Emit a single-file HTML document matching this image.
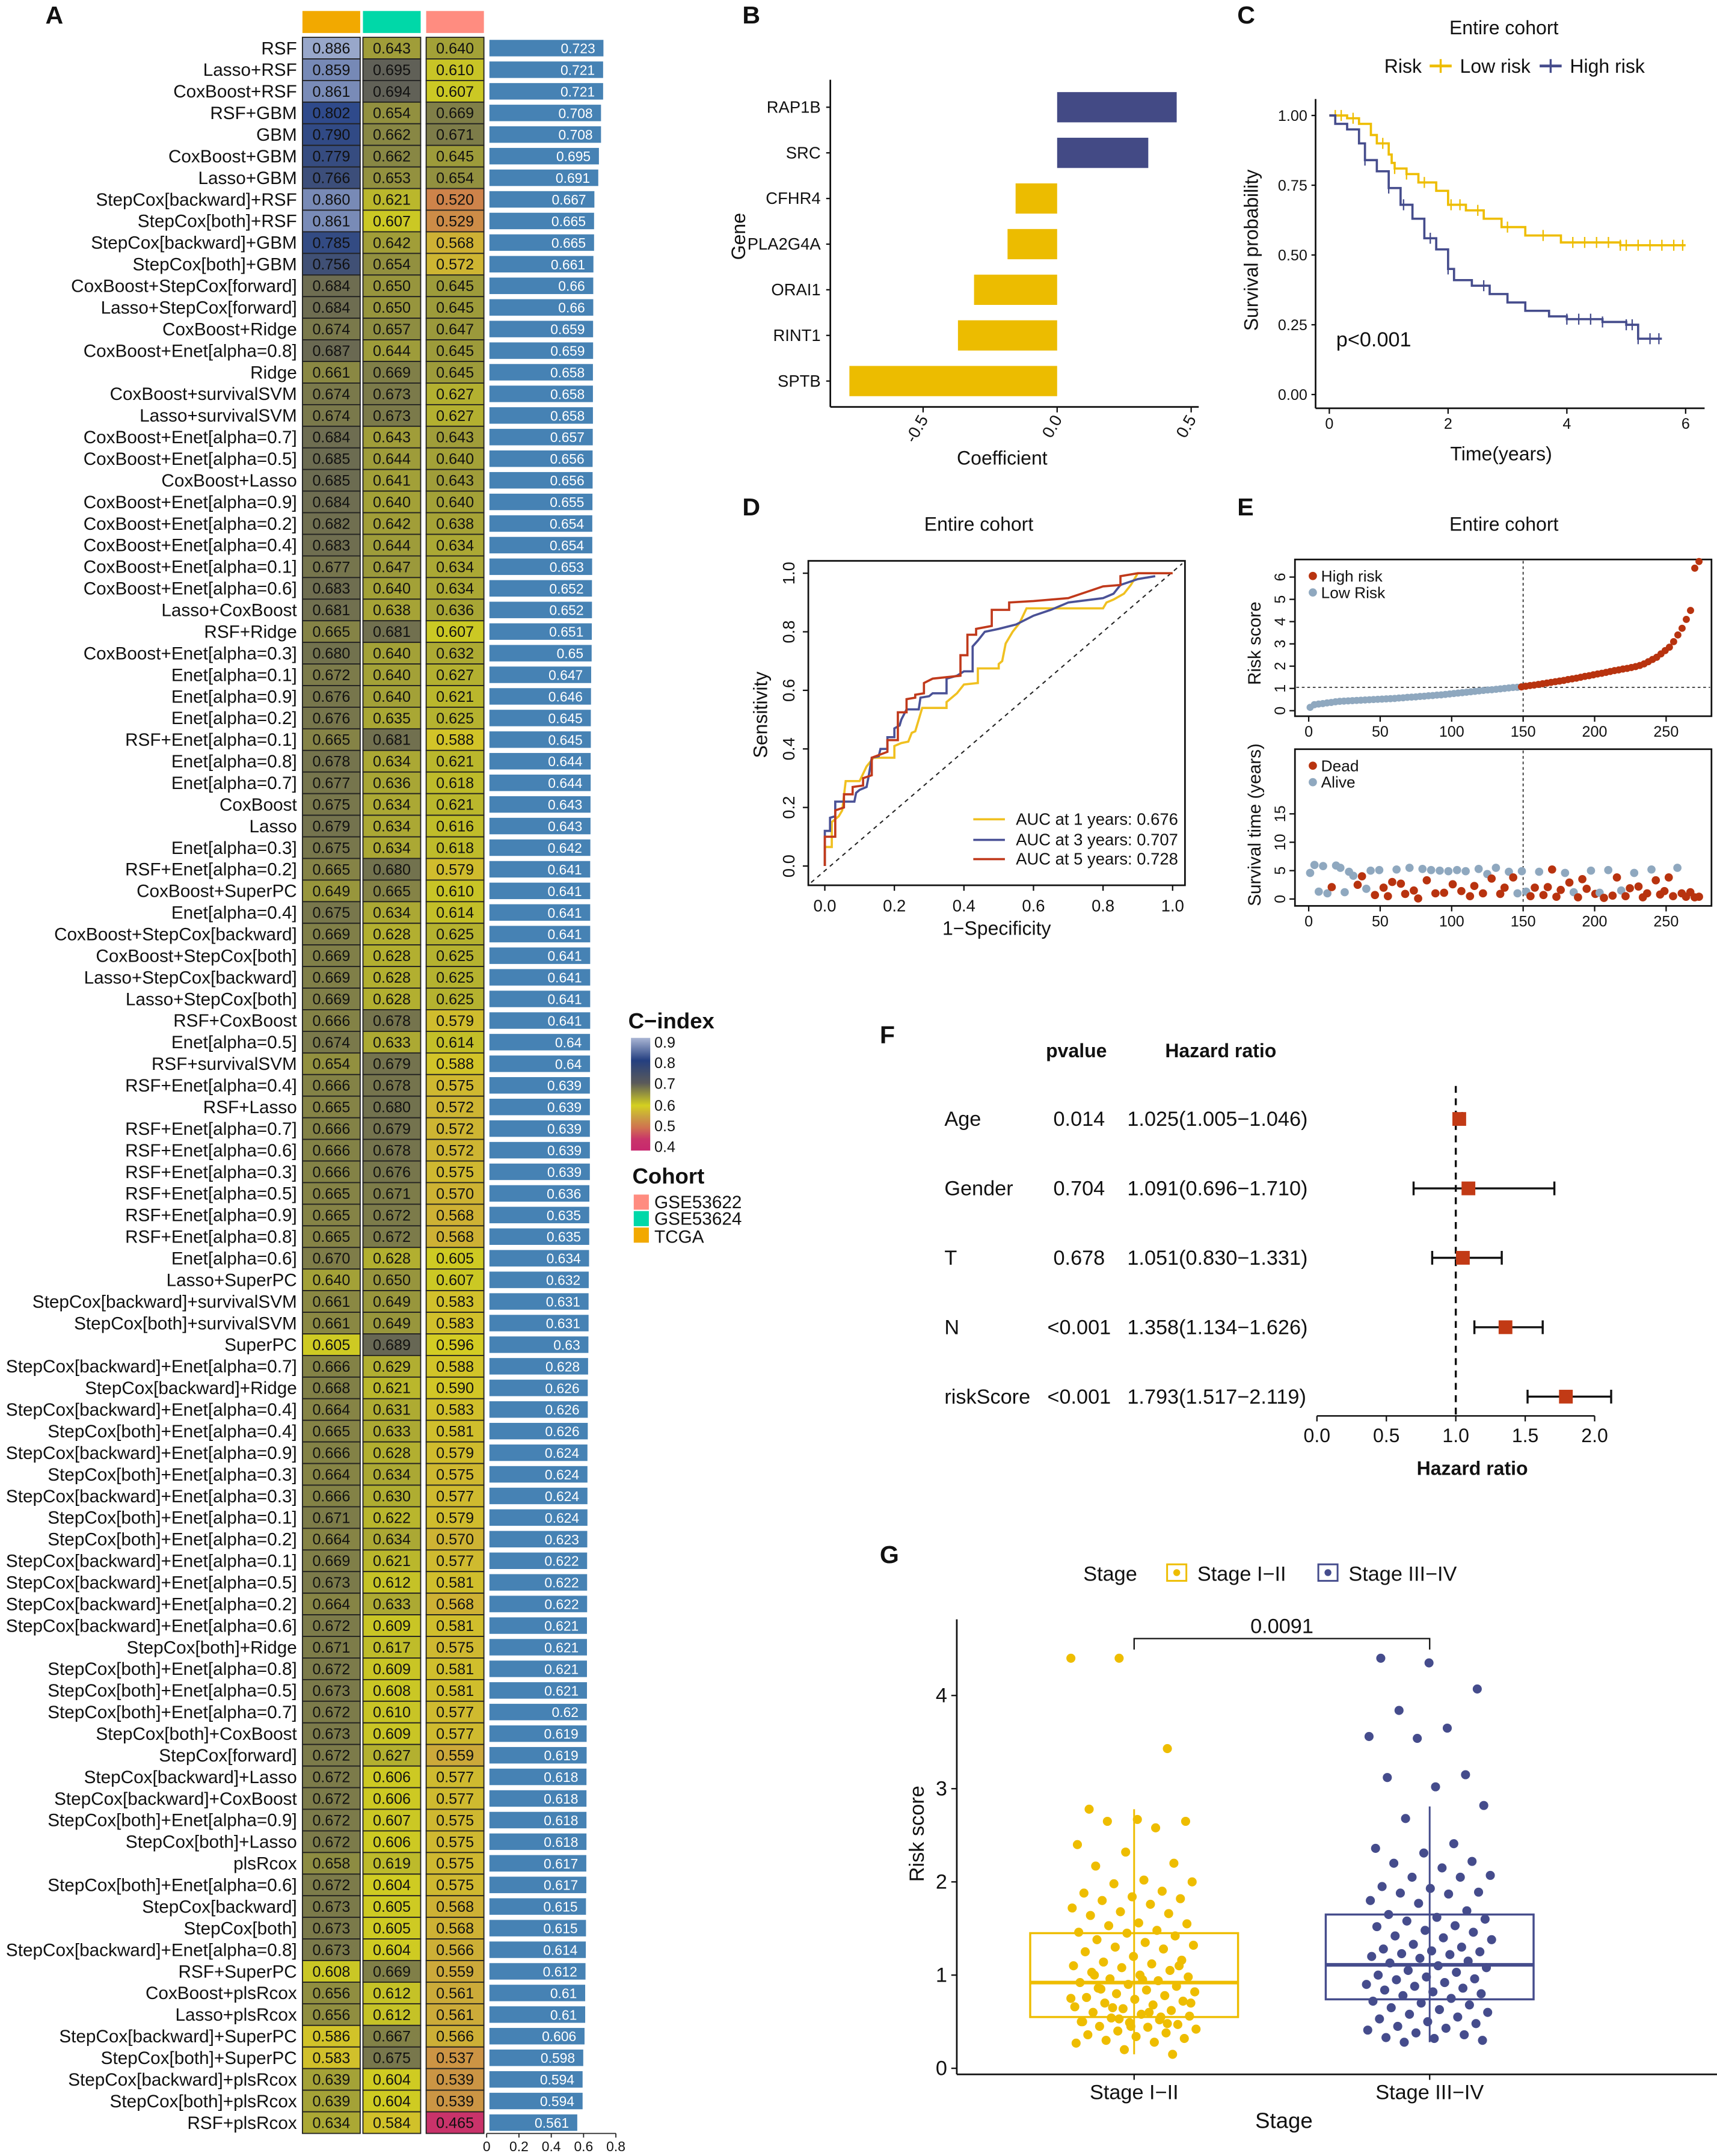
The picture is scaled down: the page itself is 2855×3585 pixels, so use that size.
<!DOCTYPE html>
<html><head><meta charset="utf-8"><style>
html,body{margin:0;padding:0;background:#fff}
svg{display:block}
text{font-family:"Liberation Sans",Arial,sans-serif;fill:#111}
</style></head><body>
<svg id="fig" xmlns="http://www.w3.org/2000/svg" width="2855" height="3585" viewBox="0 0 1249 1568.4">
<rect x="0" y="0" width="1249" height="1568.4" fill="#fff"/>
<g font-weight="bold" font-size="18">
<text x="33" y="17">A</text>
<text x="540" y="17">B</text>
<text x="900" y="17">C</text>
<text x="540" y="375">D</text>
<text x="900" y="375">E</text>
<text x="640" y="759">F</text>
<text x="640" y="1137">G</text>
</g>
<rect x="220" y="8" width="42" height="16" fill="#f2a900"/>
<rect x="264" y="8" width="42" height="16" fill="#00d8a8"/>
<rect x="310" y="8" width="42" height="16" fill="#ff8c80"/>
<g id="heat"></g>
<g id="bars"></g>
<g>
<line x1="354" y1="1552" x2="448" y2="1552" stroke="#222" stroke-width="0.8"/>
<g id="barticks"></g>
</g>
<defs><linearGradient id="cg" x1="0" y1="0" x2="0" y2="1">
<stop offset="0" stop-color="#aab6d4"/><stop offset="0.2" stop-color="#243f80"/><stop offset="0.4" stop-color="#5a5a5a"/><stop offset="0.6" stop-color="#d4d020"/><stop offset="0.7" stop-color="#caa040"/><stop offset="0.8" stop-color="#d07050"/><stop offset="0.9" stop-color="#c9346a"/><stop offset="1" stop-color="#c8286e"/></linearGradient></defs>
<g>
<text x="457" y="748" font-size="16" font-weight="bold">C−index</text>
<rect x="459" y="755" width="14" height="82" fill="url(#cg)"/>
<g font-size="11"><text x="476" y="762">0.9</text><text x="476" y="777">0.8</text><text x="476" y="792">0.7</text><text x="476" y="808">0.6</text><text x="476" y="823">0.5</text><text x="476" y="838">0.4</text></g>
<text x="460" y="861" font-size="16" font-weight="bold">Cohort</text>
<rect x="461" y="869" width="11" height="11" fill="#ff8c80"/><rect x="461" y="881" width="11" height="11" fill="#00d8a8"/><rect x="461" y="893" width="11" height="11" fill="#f2a900"/>
<g font-size="13"><text x="476" y="879">GSE53622</text><text x="476" y="891">GSE53624</text><text x="476" y="904">TCGA</text></g>
</g>
<g>
<line x1="604" y1="58" x2="604" y2="296" stroke="#111" stroke-width="1.2"/>
<line x1="604" y1="296" x2="872" y2="296" stroke="#111" stroke-width="1.2"/>
<g id="bBars"></g>
<text transform="translate(542,172) rotate(-90)" text-anchor="middle" font-size="14">Gene</text>
<text x="729" y="338" text-anchor="middle" font-size="14">Coefficient</text>
</g>
<g>
<text x="1094" y="25" text-anchor="middle" font-size="14">Entire cohort</text>
<text x="1007" y="53" font-size="14">Risk</text>
<line x1="1040" y1="48" x2="1056" y2="48" stroke="#eebd00" stroke-width="2"/><line x1="1048" y1="43" x2="1048" y2="53" stroke="#eebd00" stroke-width="1.5"/>
<text x="1062" y="53" font-size="14">Low risk</text>
<line x1="1120" y1="48" x2="1136" y2="48" stroke="#454c8c" stroke-width="2"/><line x1="1128" y1="43" x2="1128" y2="53" stroke="#454c8c" stroke-width="1.5"/>
<text x="1142" y="53" font-size="14">High risk</text>
<line x1="957" y1="72" x2="957" y2="297" stroke="#111" stroke-width="1.2"/>
<line x1="957" y1="297" x2="1240" y2="297" stroke="#111" stroke-width="1.2"/>
<g id="cAxes"></g>
<g id="cCurves"></g>
<text x="972" y="252" font-size="15">p&lt;0.001</text>
<text transform="translate(915,182) rotate(-90)" text-anchor="middle" font-size="14">Survival probability</text>
<text x="1092" y="335" text-anchor="middle" font-size="14">Time(years)</text>
</g>
<g>
<text x="712" y="386" text-anchor="middle" font-size="14">Entire cohort</text>
<rect x="588" y="408" width="274" height="236" fill="none" stroke="#111" stroke-width="1.2"/>
<g id="dAxes"></g>
<line x1="590" y1="642" x2="860" y2="410" stroke="#222" stroke-width="0.9" stroke-dasharray="3,3"/>
<g id="dCurves"></g>
<g font-size="12"><line x1="708" y1="596" x2="731" y2="596" stroke="#f0c020" stroke-width="1.6"/><text x="739" y="600">AUC at 1 years: 0.676</text>
<line x1="708" y1="611" x2="731" y2="611" stroke="#4a5196" stroke-width="1.6"/><text x="739" y="615">AUC at 3 years: 0.707</text>
<line x1="708" y1="625" x2="731" y2="625" stroke="#c0391b" stroke-width="1.6"/><text x="739" y="629">AUC at 5 years: 0.728</text></g>
<text transform="translate(558,520) rotate(-90)" text-anchor="middle" font-size="14">Sensitivity</text>
<text x="725" y="680" text-anchor="middle" font-size="14">1−Specificity</text>
</g>
<g>
<text x="1094" y="386" text-anchor="middle" font-size="14">Entire cohort</text>
<rect x="942" y="407" width="303" height="114" fill="none" stroke="#111" stroke-width="1.2"/>
<rect x="942" y="545" width="303" height="114" fill="none" stroke="#111" stroke-width="1.2"/>
<g id="eAxes"></g>
<g id="ePts"></g>
<circle cx="955" cy="419" r="3" fill="#b8330f"/><text x="961" y="423" font-size="11.5">High risk</text>
<circle cx="955" cy="431" r="3" fill="#8fa8bf"/><text x="961" y="435" font-size="11.5">Low Risk</text>
<circle cx="955" cy="557" r="3" fill="#b8330f"/><text x="961" y="561" font-size="11.5">Dead</text>
<circle cx="955" cy="569" r="3" fill="#8fa8bf"/><text x="961" y="573" font-size="11.5">Alive</text>
<text transform="translate(917,468) rotate(-90)" text-anchor="middle" font-size="13">Risk score</text>
<text transform="translate(917,600) rotate(-90)" text-anchor="middle" font-size="13">Survival time (years)</text>
</g>
<g>
<text x="783" y="769" text-anchor="middle" font-size="14" font-weight="bold">pvalue</text>
<text x="888" y="769" text-anchor="middle" font-size="14" font-weight="bold">Hazard ratio</text>
<line x1="1059" y1="790" x2="1059" y2="1030" stroke="#111" stroke-width="1.5" stroke-dasharray="5,4"/>
<line x1="958" y1="1030" x2="1160" y2="1030" stroke="#111" stroke-width="1.1"/>
<g id="fRows"></g>
<text x="1071" y="1073" text-anchor="middle" font-size="14" font-weight="bold">Hazard ratio</text>
</g>
<g>
<text x="788" y="1150" font-size="15">Stage</text>
<rect x="849" y="1138" width="14" height="12" fill="none" stroke="#eebd00" stroke-width="1.3"/><circle cx="856" cy="1144" r="2.5" fill="#eebd00"/>
<text x="871" y="1150" font-size="15">Stage I−II</text>
<rect x="959" y="1138" width="14" height="12" fill="none" stroke="#454c8c" stroke-width="1.3"/><circle cx="966" cy="1144" r="2.5" fill="#454c8c"/>
<text x="981" y="1150" font-size="15">Stage III−IV</text>
<line x1="696" y1="1178" x2="696" y2="1509" stroke="#111" stroke-width="1.2"/>
<line x1="696" y1="1509" x2="1249" y2="1509" stroke="#111" stroke-width="1.2"/>
<g id="gPlot"></g>
<text transform="translate(672,1334) rotate(-90)" text-anchor="middle" font-size="15">Risk score</text>
<text x="934" y="1548" text-anchor="middle" font-size="16">Stage</text>
</g>
</svg>
<script>
const NS='http://www.w3.org/2000/svg';
function mk(tag,attrs,parent){const e=document.createElementNS(NS,tag);for(const k in attrs)e.setAttribute(k,attrs[k]);if(parent)parent.appendChild(e);return e;}
const modelNames=["RSF","Lasso+RSF","CoxBoost+RSF","RSF+GBM","GBM","CoxBoost+GBM","Lasso+GBM","StepCox[backward]+RSF","StepCox[both]+RSF","StepCox[backward]+GBM","StepCox[both]+GBM","CoxBoost+StepCox[forward]","Lasso+StepCox[forward]","CoxBoost+Ridge","CoxBoost+Enet[alpha=0.8]","Ridge","CoxBoost+survivalSVM","Lasso+survivalSVM","CoxBoost+Enet[alpha=0.7]","CoxBoost+Enet[alpha=0.5]","CoxBoost+Lasso","CoxBoost+Enet[alpha=0.9]","CoxBoost+Enet[alpha=0.2]","CoxBoost+Enet[alpha=0.4]","CoxBoost+Enet[alpha=0.1]","CoxBoost+Enet[alpha=0.6]","Lasso+CoxBoost","RSF+Ridge","CoxBoost+Enet[alpha=0.3]","Enet[alpha=0.1]","Enet[alpha=0.9]","Enet[alpha=0.2]","RSF+Enet[alpha=0.1]","Enet[alpha=0.8]","Enet[alpha=0.7]","CoxBoost","Lasso","Enet[alpha=0.3]","RSF+Enet[alpha=0.2]","CoxBoost+SuperPC","Enet[alpha=0.4]","CoxBoost+StepCox[backward]","CoxBoost+StepCox[both]","Lasso+StepCox[backward]","Lasso+StepCox[both]","RSF+CoxBoost","Enet[alpha=0.5]","RSF+survivalSVM","RSF+Enet[alpha=0.4]","RSF+Lasso","RSF+Enet[alpha=0.7]","RSF+Enet[alpha=0.6]","RSF+Enet[alpha=0.3]","RSF+Enet[alpha=0.5]","RSF+Enet[alpha=0.9]","RSF+Enet[alpha=0.8]","Enet[alpha=0.6]","Lasso+SuperPC","StepCox[backward]+survivalSVM","StepCox[both]+survivalSVM","SuperPC","StepCox[backward]+Enet[alpha=0.7]","StepCox[backward]+Ridge","StepCox[backward]+Enet[alpha=0.4]","StepCox[both]+Enet[alpha=0.4]","StepCox[backward]+Enet[alpha=0.9]","StepCox[both]+Enet[alpha=0.3]","StepCox[backward]+Enet[alpha=0.3]","StepCox[both]+Enet[alpha=0.1]","StepCox[both]+Enet[alpha=0.2]","StepCox[backward]+Enet[alpha=0.1]","StepCox[backward]+Enet[alpha=0.5]","StepCox[backward]+Enet[alpha=0.2]","StepCox[backward]+Enet[alpha=0.6]","StepCox[both]+Ridge","StepCox[both]+Enet[alpha=0.8]","StepCox[both]+Enet[alpha=0.5]","StepCox[both]+Enet[alpha=0.7]","StepCox[both]+CoxBoost","StepCox[forward]","StepCox[backward]+Lasso","StepCox[backward]+CoxBoost","StepCox[both]+Enet[alpha=0.9]","StepCox[both]+Lasso","plsRcox","StepCox[both]+Enet[alpha=0.6]","StepCox[backward]","StepCox[both]","StepCox[backward]+Enet[alpha=0.8]","RSF+SuperPC","CoxBoost+plsRcox","Lasso+plsRcox","StepCox[backward]+SuperPC","StepCox[both]+SuperPC","StepCox[backward]+plsRcox","StepCox[both]+plsRcox","RSF+plsRcox"];
const cTCGA=[0.886,0.859,0.861,0.802,0.790,0.779,0.766,0.860,0.861,0.785,0.756,0.684,0.684,0.674,0.687,0.661,0.674,0.674,0.684,0.685,0.685,0.684,0.682,0.683,0.677,0.683,0.681,0.665,0.680,0.672,0.676,0.676,0.665,0.678,0.677,0.675,0.679,0.675,0.665,0.649,0.675,0.669,0.669,0.669,0.669,0.666,0.674,0.654,0.666,0.665,0.666,0.666,0.666,0.665,0.665,0.665,0.670,0.640,0.661,0.661,0.605,0.666,0.668,0.664,0.665,0.666,0.664,0.666,0.671,0.664,0.669,0.673,0.664,0.672,0.671,0.672,0.673,0.672,0.673,0.672,0.672,0.672,0.672,0.672,0.658,0.672,0.673,0.673,0.673,0.608,0.656,0.656,0.586,0.583,0.639,0.639,0.634];
const cGSE53624=[0.643,0.695,0.694,0.654,0.662,0.662,0.653,0.621,0.607,0.642,0.654,0.650,0.650,0.657,0.644,0.669,0.673,0.673,0.643,0.644,0.641,0.640,0.642,0.644,0.647,0.640,0.638,0.681,0.640,0.640,0.640,0.635,0.681,0.634,0.636,0.634,0.634,0.634,0.680,0.665,0.634,0.628,0.628,0.628,0.628,0.678,0.633,0.679,0.678,0.680,0.679,0.678,0.676,0.671,0.672,0.672,0.628,0.650,0.649,0.649,0.689,0.629,0.621,0.631,0.633,0.628,0.634,0.630,0.622,0.634,0.621,0.612,0.633,0.609,0.617,0.609,0.608,0.610,0.609,0.627,0.606,0.606,0.607,0.606,0.619,0.604,0.605,0.605,0.604,0.669,0.612,0.612,0.667,0.675,0.604,0.604,0.584];
const cGSE53622=[0.640,0.610,0.607,0.669,0.671,0.645,0.654,0.520,0.529,0.568,0.572,0.645,0.645,0.647,0.645,0.645,0.627,0.627,0.643,0.640,0.643,0.640,0.638,0.634,0.634,0.634,0.636,0.607,0.632,0.627,0.621,0.625,0.588,0.621,0.618,0.621,0.616,0.618,0.579,0.610,0.614,0.625,0.625,0.625,0.625,0.579,0.614,0.588,0.575,0.572,0.572,0.572,0.575,0.570,0.568,0.568,0.605,0.607,0.583,0.583,0.596,0.588,0.590,0.583,0.581,0.579,0.575,0.577,0.579,0.570,0.577,0.581,0.568,0.581,0.575,0.581,0.581,0.577,0.577,0.559,0.577,0.577,0.575,0.575,0.575,0.575,0.568,0.568,0.566,0.559,0.561,0.561,0.566,0.537,0.539,0.539,0.465];
const cMean=[0.723,0.721,0.721,0.708,0.708,0.695,0.691,0.667,0.665,0.665,0.661,0.66,0.66,0.659,0.659,0.658,0.658,0.658,0.657,0.656,0.656,0.655,0.654,0.654,0.653,0.652,0.652,0.651,0.65,0.647,0.646,0.645,0.645,0.644,0.644,0.643,0.643,0.642,0.641,0.641,0.641,0.641,0.641,0.641,0.641,0.641,0.64,0.64,0.639,0.639,0.639,0.639,0.639,0.636,0.635,0.635,0.634,0.632,0.631,0.631,0.63,0.628,0.626,0.626,0.626,0.624,0.624,0.624,0.624,0.623,0.622,0.622,0.622,0.621,0.621,0.621,0.621,0.62,0.619,0.619,0.618,0.618,0.618,0.618,0.617,0.617,0.615,0.615,0.614,0.612,0.61,0.61,0.606,0.598,0.594,0.594,0.561];
const barTicks=[0,0.2,0.4,0.6,0.8];
const stops=[[0.4,[200,40,110]],[0.47,[201,52,106]],[0.5,[208,112,80]],[0.55,[202,160,64]],[0.6,[212,208,32]],[0.7,[90,90,90]],[0.8,[44,72,138]],[0.9,[170,182,212]]];
function cmap(v){if(v<=stops[0][0])return 'rgb('+stops[0][1]+')';for(let i=1;i<stops.length;i++){if(v<=stops[i][0]){const a=stops[i-1],b=stops[i];const t=(v-a[0])/(b[0]-a[0]);return 'rgb('+a[1].map((c,j)=>Math.round(c+(b[1][j]-c)*t)).join(',')+')';}}return 'rgb('+stops[stops.length-1][1]+')';}
const rowY=i=>35+i*15.72, RH=15.72;
const xBar=v=>354+v*117.5;
const heat=document.getElementById('heat'), bars=document.getElementById('bars');
const cols=[[cTCGA,220],[cGSE53624,264],[cGSE53622,310]];
modelNames.forEach((nm,i)=>{
  const y=rowY(i);
  const t=mk('text',{x:216,y:y+4.5,'text-anchor':'end','font-size':13},heat);t.textContent=nm;
  
  
  cols.forEach(([arr,x])=>{
    const r=mk('rect',{x:x,y:y-RH/2,width:42,height:RH,fill:cmap(arr[i]),stroke:'#222','stroke-width':0.8},heat);
    
    
    const tt=mk('text',{x:x+21,y:y+3.9,'text-anchor':'middle','font-size':11,fill:'#111'},heat);tt.textContent=arr[i].toFixed(3);
    
    
  });
  const b=mk('rect',{x:356,y:y-6,width:xBar(cMean[i])-356,height:12,fill:'#4682b4'},bars);
  
  
  const bt=mk('text',{x:xBar(cMean[i])-6,y:y+3.7,'text-anchor':'end','font-size':10,fill:'#fff'},bars);bt.textContent=String(cMean[i]);
  bt.style.fill='#fff';
  
  
});
const btg=document.getElementById('barticks');
barTicks.forEach(v=>{mk('line',{x1:xBar(v),y1:1552,x2:xBar(v),y2:1555,stroke:'#222','stroke-width':0.8},btg);
  const t=mk('text',{x:xBar(v),y:1565,'text-anchor':'middle','font-size':10},btg);t.textContent=String(v);
  
  });
const genes=["RAP1B","SRC","CFHR4","PLA2G4A","ORAI1","RINT1","SPTB"];
const coefs=[0.446,0.34,-0.155,-0.185,-0.31,-0.37,-0.775];
const coefTicks=[-0.5,0.0,0.5];
const xB=v=>769+v*195, yB=i=>78+i*33.2;
const bB=document.getElementById('bBars');
genes.forEach((g,i)=>{
  const v=coefs[i];
  const r=mk('rect',{x:Math.min(xB(0),xB(v)),y:yB(i)-11,width:Math.abs(xB(v)-xB(0)),height:22,fill:v>0?'#434a85':'#ecbc00'},bB);
  
  
  mk('line',{x1:601,y1:yB(i),x2:604,y2:yB(i),stroke:'#111'},bB);
  const t=mk('text',{x:597,y:yB(i)+4,'text-anchor':'end','font-size':12},bB);t.textContent=g;
  
  
});
coefTicks.forEach(v=>{mk('line',{x1:xB(v),y1:296,x2:xB(v),y2:300,stroke:'#111'},bB);
  const t=mk('text',{transform:`translate(${xB(v)+4},305) rotate(-60)`,'text-anchor':'end','font-size':12},bB);t.textContent=v.toFixed(1);
  
  });
const lowT=[0,0.3,0.5,0.7,0.8,1.0,1.05,1.1,1.3,1.5,1.8,2.0,2.3,2.6,2.9,3.3,3.9,4.9,6.0];
const lowS=[1,0.99,0.97,0.93,0.9,0.86,0.83,0.81,0.79,0.76,0.73,0.68,0.66,0.63,0.6,0.57,0.545,0.535,0.535];
const highT=[0,0.1,0.3,0.5,0.6,0.8,1.0,1.2,1.4,1.6,1.8,2.0,2.1,2.4,2.7,3.0,3.3,3.7,4.0,4.6,5.0,5.2,5.6];
const highS=[1,0.97,0.95,0.9,0.84,0.8,0.74,0.68,0.63,0.56,0.52,0.45,0.41,0.39,0.36,0.33,0.3,0.28,0.27,0.26,0.25,0.2,0.2];
const lowCens=[0.1,0.2,0.4,0.9,1.1,1.3,1.6,2.05,2.2,2.5,3.0,3.6,4.1,4.3,4.5,4.7,4.9,5.0,5.2,5.4,5.6,5.8,5.95];
const highCens=[0.6,1.0,1.25,1.7,2.0,2.6,4.0,4.2,4.4,4.6,5.0,5.1,5.2,5.4,5.55];
const survTicks=[0,0.25,0.5,0.75,1.0], timeTicks=[0,2,4,6];
const xC=t=>967+t*43.2, yC=s=>287-s*203;
const cAx=document.getElementById('cAxes'), cCv=document.getElementById('cCurves');
survTicks.forEach(s=>{mk('line',{x1:954,y1:yC(s),x2:957,y2:yC(s),stroke:'#111'},cAx);const t=mk('text',{x:951,y:yC(s)+4,'text-anchor':'end','font-size':11},cAx);t.textContent=s.toFixed(2);
  
  });
timeTicks.forEach(v=>{mk('line',{x1:xC(v),y1:297,x2:xC(v),y2:301,stroke:'#111'},cAx);const t=mk('text',{x:xC(v),y:312,'text-anchor':'middle','font-size':11},cAx);t.textContent=v;
  
  });
function stepAt(T,S,t){let s=S[0];for(let i=0;i<T.length;i++){if(T[i]<=t)s=S[i];}return s;}
function km(T,S,cens,col,name){
  let d=`M${xC(T[0])},${yC(S[0])}`;for(let i=1;i<T.length;i++){d+=`H${xC(T[i])}V${yC(S[i])}`;}
  const p=mk('path',{d:d,fill:'none',stroke:col,'stroke-width':1.6},cCv);
  
  
  cens.forEach(t=>{const y=yC(stepAt(T,S,t)),x=xC(t);mk('path',{d:`M${x},${y-4}V${y+4}`,stroke:col,'stroke-width':1},cCv);});
}
km(lowT,lowS,lowCens,'#eebd00','km-low-risk');
km(highT,highS,highCens,'#454c8c','km-high-risk');
const roc1F=[0,0,0.02,0.02,0.04,0.05,0.06,0.1,0.12,0.14,0.2,0.2,0.22,0.24,0.25,0.26,0.27,0.28,0.35,0.35,0.38,0.4,0.44,0.44,0.5,0.5,0.51,0.52,0.54,0.56,0.58,0.8,0.81,0.83,0.86,0.88,0.9,1];
const roc1T=[0,0.065,0.065,0.15,0.17,0.19,0.29,0.29,0.34,0.37,0.37,0.41,0.42,0.425,0.455,0.46,0.5,0.54,0.54,0.56,0.59,0.62,0.625,0.675,0.675,0.69,0.7,0.76,0.8,0.83,0.88,0.88,0.9,0.91,0.93,0.96,1,1];
const roc3F=[0,0,0.015,0.015,0.03,0.03,0.06,0.085,0.09,0.1,0.12,0.125,0.135,0.155,0.16,0.18,0.18,0.2,0.2,0.215,0.22,0.235,0.27,0.275,0.3,0.31,0.35,0.35,0.38,0.4,0.425,0.425,0.44,0.46,0.5,0.55,0.6,0.65,0.7,0.8,0.83,0.85,0.9,0.95];
const roc3T=[0,0.12,0.12,0.165,0.17,0.22,0.22,0.22,0.25,0.26,0.27,0.3,0.37,0.375,0.4,0.4,0.44,0.44,0.47,0.48,0.5,0.535,0.535,0.575,0.58,0.59,0.59,0.64,0.65,0.665,0.665,0.75,0.77,0.8,0.81,0.825,0.855,0.875,0.9,0.915,0.93,0.96,0.98,0.99];
const roc5F=[0,0,0.03,0.03,0.055,0.055,0.08,0.08,0.11,0.11,0.135,0.135,0.18,0.18,0.21,0.21,0.235,0.235,0.26,0.26,0.285,0.285,0.31,0.35,0.39,0.39,0.41,0.41,0.435,0.435,0.48,0.48,0.53,0.53,0.6,0.7,0.75,0.8,0.85,0.85,0.9,1];
const roc5T=[0,0.1,0.1,0.19,0.2,0.245,0.245,0.27,0.275,0.3,0.31,0.37,0.39,0.43,0.43,0.525,0.525,0.57,0.575,0.585,0.59,0.625,0.64,0.645,0.65,0.72,0.72,0.79,0.79,0.81,0.82,0.875,0.875,0.9,0.905,0.915,0.935,0.955,0.96,0.99,1,1];
const rocTicks=[0,0.2,0.4,0.6,0.8,1.0];
const xD=f=>600+f*253, yD=s=>630-s*213;
const dAx=document.getElementById('dAxes'), dCv=document.getElementById('dCurves');
rocTicks.forEach(v=>{
  mk('line',{x1:xD(v),y1:644,x2:xD(v),y2:648,stroke:'#111'},dAx);
  const t=mk('text',{x:xD(v),y:663,'text-anchor':'middle','font-size':12},dAx);t.textContent=v.toFixed(1);
  
  
  mk('line',{x1:584,y1:yD(v),x2:588,y2:yD(v),stroke:'#111'},dAx);
  const t2=mk('text',{transform:`translate(578,${yD(v)}) rotate(-90)`,'text-anchor':'middle','font-size':12},dAx);t2.textContent=v.toFixed(1);
  
  
});
[[roc1F,roc1T,'#f0c020','roc-1-year'],[roc3F,roc3T,'#4a5196','roc-3-year'],[roc5F,roc5T,'#c0391b','roc-5-year']].forEach(([F,T,c,n])=>{
  const p=mk('polyline',{points:F.map((f,i)=>xD(f)+','+yD(T[i])).join(' '),fill:'none',stroke:c,'stroke-width':1.6},dCv);
  
  
});
const riskScores=[0.15,0.27,0.3,0.32,0.35,0.37,0.4,0.42,0.43,0.44,0.45,0.46,0.47,0.48,0.49,0.5,0.51,0.52,0.53,0.54,0.55,0.57,0.58,0.6,0.61,0.62,0.64,0.65,0.67,0.68,0.7,0.71,0.73,0.75,0.77,0.79,0.81,0.83,0.85,0.87,0.89,0.91,0.93,0.94,0.96,0.98,1.0,1.02,1.04,1.05,1.07,1.1,1.13,1.15,1.18,1.21,1.24,1.27,1.3,1.33,1.36,1.4,1.43,1.46,1.5,1.54,1.57,1.61,1.65,1.68,1.72,1.76,1.8,1.83,1.87,1.9,1.94,1.98,2.03,2.1,2.2,2.3,2.4,2.55,2.7,2.85,3.1,3.4,3.7,4.1,4.5,6.4,6.7];
const riskCutoff=1.05, cutoffPatient=150;
const survTimes=[4.6,6.0,1.3,5.8,1.0,2.1,5.9,5.5,1.2,4.8,4.1,2.5,4.0,1.8,5.0,0.7,5.1,2.0,0.5,3.0,5.2,2.7,0.9,5.5,1.5,0.1,5.3,3.3,5.1,1.0,5.0,1.1,4.9,2.6,5.1,1.4,4.9,0.5,2.3,5.3,1.0,4.4,3.6,5.5,0.9,2.0,4.8,3.8,1.0,4.9,1.3,0.5,2.0,4.8,0.7,2.1,5.2,0.4,1.6,4.6,2.9,1.2,0.3,3.5,1.8,5.0,0.9,1.1,0.2,5.1,0.6,3.8,1.5,0.5,1.9,4.6,2.2,0.3,1.0,5.2,3.3,0.8,1.4,3.8,0.5,5.5,1.0,0.4,1.2,0.3,0.4];
const survStatus=[0,0,0,0,0,1,0,0,0,0,0,1,1,0,0,1,0,1,1,1,0,1,1,0,1,1,0,1,0,1,0,1,0,1,0,1,0,1,1,0,1,0,1,0,1,1,0,1,0,0,0,1,1,0,1,1,1,1,1,0,1,0,1,1,1,0,1,0,1,0,1,1,0,1,1,0,1,1,1,0,1,1,1,1,1,0,1,1,1,1,1];
const nPatients=273, idxTicks=[0,50,100,150,200,250], rsTicks=[0,1,2,3,4,5,6], stTicks=[0,5,10,15];
const xE=i=>952+i*1.04, yE1=v=>517-v*16.2, yE2=v=>654-v*4.13;
const eAx=document.getElementById('eAxes'), eP=document.getElementById('ePts');
idxTicks.forEach(v=>{[[521,531],[659,669]].forEach(([y0,yl])=>{mk('line',{x1:xE(v),y1:y0,x2:xE(v),y2:y0+4,stroke:'#111'},eAx);const t=mk('text',{x:xE(v),y:yl+5,'text-anchor':'middle','font-size':11},eAx);t.textContent=v;
  
  });});
rsTicks.forEach(v=>{mk('line',{x1:938,y1:yE1(v),x2:942,y2:yE1(v),stroke:'#111'},eAx);const t=mk('text',{transform:`translate(935,${yE1(v)}) rotate(-90)`,'text-anchor':'middle','font-size':11},eAx);t.textContent=v;
  
  });
stTicks.forEach(v=>{mk('line',{x1:938,y1:yE2(v),x2:942,y2:yE2(v),stroke:'#111'},eAx);const t=mk('text',{transform:`translate(935,${yE2(v)}) rotate(-90)`,'text-anchor':'middle','font-size':11},eAx);t.textContent=v;
  
  });
mk('line',{x1:xE(cutoffPatient),y1:408,x2:xE(cutoffPatient),y2:520,stroke:'#333','stroke-width':0.8,'stroke-dasharray':'2,2'},eAx);
mk('line',{x1:943,y1:yE1(riskCutoff),x2:1244,y2:yE1(riskCutoff),stroke:'#333','stroke-width':0.8,'stroke-dasharray':'2,2'},eAx);
mk('line',{x1:xE(cutoffPatient),y1:546,x2:xE(cutoffPatient),y2:658,stroke:'#333','stroke-width':0.8,'stroke-dasharray':'2,2'},eAx);
riskScores.forEach((v,i)=>{const p=1+i*(nPatients-1)/(riskScores.length-1);
  const c=mk('circle',{cx:xE(p),cy:yE1(v),r:2.6,fill:v>riskCutoff?'#b8330f':'#8fa8bf'},eP);
  
  });
survTimes.forEach((v,i)=>{const p=1+i*(nPatients-1)/(survTimes.length-1);
  const c=mk('circle',{cx:xE(p),cy:yE2(v),r:3,fill:survStatus[i]?'#b8330f':'#8fa8bf'},eP);
  
  });
const fVars=["Age","Gender","T","N","riskScore"];
const fP=["0.014","0.704","0.678","<0.001","<0.001"];
const fHR=[1.025,1.091,1.051,1.358,1.793];
const fLo=[1.005,0.696,0.830,1.134,1.517];
const fHi=[1.046,1.710,1.331,1.626,2.119];
const hrTicks=[0,0.5,1.0,1.5,2.0];
const xF=v=>958+v*101, yF=i=>814+i*50.5;
const fR=document.getElementById('fRows');
fVars.forEach((nm,i)=>{const y=yF(i);
  const a=mk('text',{x:687,y:y+5,'font-size':15},fR);a.textContent=nm;
  
  
  const b=mk('text',{x:785,y:y+5,'text-anchor':'middle','font-size':15},fR);b.textContent=fP[i];
  
  
  const c=mk('text',{x:820,y:y+5,'font-size':15},fR);c.textContent=fHR[i].toFixed(3)+'('+fLo[i].toFixed(3)+'−'+fHi[i].toFixed(3)+')';
  
  
  const l=mk('path',{d:`M${xF(fLo[i])},${y}H${xF(fHi[i])}M${xF(fLo[i])},${y-5}V${y+5}M${xF(fHi[i])},${y-5}V${y+5}`,stroke:'#111','stroke-width':1.5,fill:'none'},fR);
  
  
  const s=mk('rect',{x:xF(fHR[i])-5,y:y-5,width:10,height:10,fill:'#c23a15'},fR);
  
  
});
hrTicks.forEach(v=>{mk('line',{x1:xF(v),y1:1030,x2:xF(v),y2:1034,stroke:'#111'},fR);const t=mk('text',{x:xF(v),y:1049,'text-anchor':'middle','font-size':14},fR);t.textContent=v.toFixed(1);
  
  });
const stageNames=["Stage I−II","Stage III−IV"];
const stageColors=['#eebd00','#454c8c'];
const g1Scores=[4.4,4.4,3.43,2.78,2.67,2.65,2.65,2.58,2.4,2.32,2.2,2.17,2.02,2.0,1.98,1.9,1.88,1.84,1.82,1.8,1.76,1.72,1.68,1.66,1.64,1.56,1.55,1.53,1.48,1.46,1.45,1.42,1.38,1.35,1.32,1.3,1.28,1.25,1.2,1.16,1.14,1.12,1.1,1.08,1.05,1.03,1.0,0.98,0.96,0.94,0.92,0.9,0.88,0.86,0.84,0.82,0.8,0.78,0.76,0.74,0.72,0.7,0.68,0.66,0.64,0.62,0.6,0.58,0.56,0.54,0.52,0.5,0.49,0.47,0.45,0.44,0.42,0.4,0.38,0.36,0.34,0.32,0.3,0.28,0.27,0.2,0.15,1.0,0.95,0.7,0.65,0.55,0.5,0.45,1.1,0.85,0.6,0.75,0.53,0.48];
const g2Scores=[4.4,4.35,4.07,3.84,3.65,3.56,3.54,3.15,3.12,3.02,2.82,2.68,2.41,2.36,2.31,2.22,2.2,2.15,2.07,2.05,2.05,1.95,1.93,1.89,1.88,1.87,1.8,1.77,1.69,1.65,1.62,1.6,1.58,1.53,1.52,1.48,1.46,1.42,1.4,1.38,1.33,1.3,1.28,1.26,1.25,1.23,1.22,1.2,1.18,1.15,1.13,1.1,1.08,1.05,1.03,1.0,0.98,0.96,0.95,0.92,0.9,0.88,0.86,0.84,0.82,0.8,0.78,0.75,0.72,0.7,0.68,0.65,0.63,0.6,0.58,0.55,0.53,0.5,0.48,0.45,0.43,0.41,0.38,0.36,0.33,0.32,0.3,0.28];
const boxQ1=[0.55,0.74], boxMed=[0.92,1.11], boxQ3=[1.45,1.65], whLo=[0.15,0.28], whHi=[2.78,2.81];
const pValueText="0.0091", riskTicksG=[0,1,2,3,4];
const yG=v=>1504.6-v*67.8, xGc=[825,1040];
const gP=document.getElementById('gPlot');
riskTicksG.forEach(v=>{mk('line',{x1:692,y1:yG(v),x2:696,y2:yG(v),stroke:'#111'},gP);const t=mk('text',{x:689,y:yG(v)+5,'text-anchor':'end','font-size':15},gP);t.textContent=v;
  
  });
[g1Scores,g2Scores].forEach((arr,g)=>{
  const cx=xGc[g], col=stageColors[g];
  mk('line',{x1:cx,y1:yG(whLo[g]),x2:cx,y2:yG(whHi[g]),stroke:col,'stroke-width':1.3},gP);
  const bx=mk('rect',{x:cx-75.6,y:yG(boxQ3[g]),width:151.2,height:yG(boxQ1[g])-yG(boxQ3[g]),fill:'#fff','fill-opacity':0,stroke:col,'stroke-width':1.5},gP);
  
  
  mk('line',{x1:cx-75.6,y1:yG(boxMed[g]),x2:cx+75.6,y2:yG(boxMed[g]),stroke:col,'stroke-width':2.6},gP);
  arr.forEach((v,i)=>{const j=((i*37+g*11)%97)/97-0.5;
    const c=mk('circle',{cx:cx+j*92,cy:yG(v),r:3.3,fill:col},gP);
    
    });
  mk('line',{x1:cx,y1:1509,x2:cx,y2:1513,stroke:'#111'},gP);
  const t=mk('text',{x:cx,y:1527,'text-anchor':'middle','font-size':15},gP);t.textContent=stageNames[g];
  
  
});
mk('path',{d:`M${xGc[0]},1200V1192H${xGc[1]}V1200`,fill:'none',stroke:'#111','stroke-width':1},gP);
const pt=mk('text',{x:(xGc[0]+xGc[1])/2,y:1188,'text-anchor':'middle','font-size':15},gP);pt.textContent=pValueText;


</script>
</body></html>
